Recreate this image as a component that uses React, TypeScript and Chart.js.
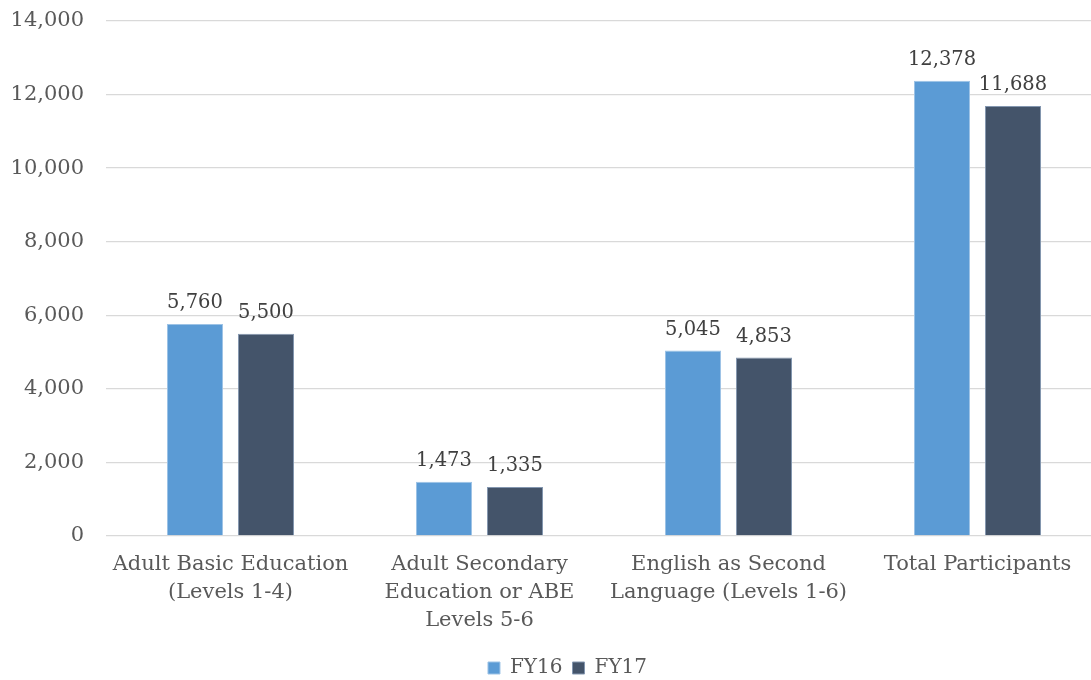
import React, { useEffect, useRef } from "react";
import { Chart, registerables } from "chart.js";

Chart.register(...registerables);

const categories: string[][] = [
  ["Adult Basic Education", "(Levels 1-4)"],
  ["Adult Secondary", "Education or ABE", "Levels 5-6"],
  ["English as Second", "Language (Levels 1-6)"],
  ["Total Participants"],
];
const seriesNames = ["FY16", "FY17"];
const fy16 = [5760, 1473, 5045, 12378];
const fy17 = [5500, 1335, 4853, 11688];
const colors = ["#5B9BD5", "#44546A"];
const yMax = 14000;
const yStep = 2000;

const FONT = "'DejaVu Serif', serif";
const TEXT = "#595959";

const valueLabels = {
  id: "valueLabels",
  afterDatasetsDraw(chart: any) {
    const ctx = chart.ctx;
    ctx.save();
    ctx.font = `19.5px ${FONT}`;
    ctx.fillStyle = "#404040";
    ctx.textAlign = "center";
    ctx.textBaseline = "bottom";
    chart.data.datasets.forEach((ds: any, i: number) => {
      const meta = chart.getDatasetMeta(i);
      meta.data.forEach((bar: any, j: number) => {
        const v = ds.data[j] as number;
        ctx.fillText(v.toLocaleString("en-US"), bar.x, bar.y - 11);
      });
    });
    ctx.restore();
  },
};

// nudge the bottom legend slightly right, as in the reference
const legendShift = {
  id: "legendShift",
  afterLayout(chart: any) {
    const lg = chart.legend;
    if (lg) {
      lg.left += 33;
      lg.right += 0;
    }
  },
};

export default function App() {
  const ref = useRef<HTMLCanvasElement>(null);
  useEffect(() => {
    const chart = new Chart(ref.current!, {
      type: "bar",
      data: {
        labels: categories,
        datasets: [
          {
            label: seriesNames[0],
            data: fy16,
            backgroundColor: colors[0],
            borderColor: "#9DC3E6",
            borderWidth: 1,
          },
          {
            label: seriesNames[1],
            data: fy17,
            backgroundColor: colors[1],
            borderColor: "#8497B0",
            borderWidth: 1,
          },
        ],
      },
      options: {
        animation: false,
        responsive: false,
        devicePixelRatio: 1,
        layout: { padding: { top: 21, left: 0, right: 0, bottom: -8 } },
        datasets: { bar: { categoryPercentage: 0.57, barPercentage: 0.79 } },
        plugins: {
          legend: {
            position: "bottom",
            labels: {
              font: { family: FONT, size: 20 },
              color: TEXT,
              boxWidth: 12,
              boxHeight: 12,
              padding: 10,
            },
          },
          tooltip: { enabled: false },
        },
        scales: {
          x: {
            grid: { display: false },
            border: { display: false },
            ticks: {
              color: TEXT,
              font: { family: FONT, size: 21, lineHeight: 1.33 },
              padding: 7,
              maxRotation: 0,
              autoSkip: false,
            },
            afterFit: (s: any) => {
              s.height = 112;
              s.paddingLeft = 0;
              s.paddingRight = 0;
            },
          },
          y: {
            min: 0,
            max: yMax,
            grid: { color: "#D9D9D9", lineWidth: 1.3, drawTicks: false },
            border: { display: false },
            ticks: {
              stepSize: yStep,
              color: TEXT,
              font: { family: FONT, size: 21 },
              padding: 22,
              callback: (v: any) => Number(v).toLocaleString("en-US"),
            },
            afterFit: (s: any) => {
              s.width = 106;
              s.paddingTop = 0;
              s.paddingBottom = 0;
            },
          },
        },
      },
      plugins: [valueLabels, legendShift],
    });
    return () => chart.destroy();
  }, []);
  return (
    <div
      style={{
        position: "fixed",
        left: 0,
        top: 0,
        width: 1091,
        height: 680,
        overflow: "hidden",
        background: "#fff",
      }}
    >
      <canvas ref={ref} width={1102} height={680} style={{ display: "block" }} />
    </div>
  );
}
